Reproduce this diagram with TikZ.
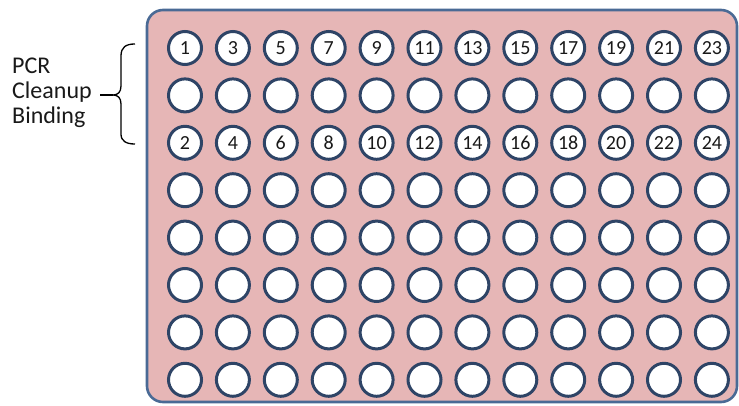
\documentclass[tikz,border=0pt]{standalone}
\usepackage{fontspec}
\setmainfont{Carlito}
\definecolor{platefill}{HTML}{E6B6B6}
\definecolor{plateedge}{HTML}{4A6A95}
\definecolor{welledge}{HTML}{2E4466}

\begin{document}
\begin{tikzpicture}[x=1pt,y=-1pt,
    well/.style={circle,draw=welledge,line width=3pt,fill=white,minimum size=33pt,inner sep=0pt,
      font=\fontsize{20}{20}\selectfont,text=black!90},
    lbl/.style={anchor=base west,inner sep=0pt,font=\fontsize{24}{25}\selectfont,text=black!90}]
    \useasboundingbox (0,0) rectangle (739,406);
    % 板
    \draw[plateedge,line width=2.6pt,fill=platefill,rounded corners=16pt] (147,10) rectangle (737,402);
    % 孔
    \foreach \r in {1,...,8}{
      \foreach \c in {1,...,12}{
        \pgfmathtruncatemacro\n{\r==1 ? 2*\c-1 : (\r==3 ? 2*\c : 0)}
        \node[well] (w\r-\c) at ({185+47.9*(\c-1)},{48+47.4*(\r-1)}) {\ifnum\n>0 \n\fi};
      }
    }
    % 说明
    \node[lbl] (pcr) at (12,74) {PCR};
    \node[lbl] (cleanup) at (12,99) {Cleanup};
    \node[lbl] (binding) at (12,124) {Binding};
    % 括号
    \coordinate (tip) at (113,95);
    \draw[line width=1.3pt] (135,44) .. controls (126,44) and (121,47) .. (121,56) -- (121,86)
      .. controls (121,92) and (118,95) .. (tip) .. controls (118,95) and (121,98) .. (121,104)
      -- (121,134) .. controls (121,141) and (126,144) .. (135,144);
    \draw[line width=1.3pt] (tip) -- (100,95);
\end{tikzpicture}
\end{document}
